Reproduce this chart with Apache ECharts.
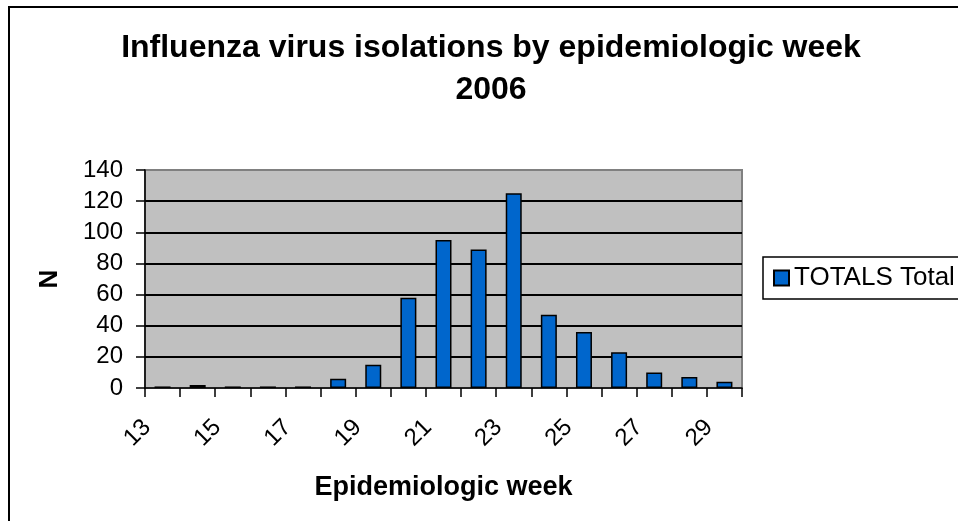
<!DOCTYPE html>
<html>
<head>
<meta charset="utf-8">
<script src="https://cdn.jsdelivr.net/npm/echarts@6/dist/echarts.min.js"></script>
<style>
html,body{margin:0;padding:0;background:#fff;}
#chart{width:958px;height:521px;}
</style>
</head>
<body>
<div id="chart"></div>
<script>
var weeks = ['13','14','15','16','17','18','19','20','21','22','23','24','25','26','27','28','29'];
var totals = [1, 2, 1, 1, 1, 6, 15, 58, 95, 89, 125, 47, 36, 23, 10, 7, 4];
var seriesName = 'TOTALS Total';
var titleLines = ['Influenza virus isolations by epidemiologic week', '2006'];
var yTicks = {min: 0, max: 140, interval: 20};

var FONT = 'Liberation Sans, Arial, sans-serif';
var chart = echarts.init(document.getElementById('chart'), null, {renderer: 'canvas'});
chart.setOption({
  backgroundColor: '#ffffff',
  animation: false,
  title: {
    text: titleLines.join('\n'),
    left: 486,
    top: 22,
    textAlign: 'center',
    textStyle: {fontFamily: FONT, fontWeight: 'bold', fontSize: 32, color: '#000', lineHeight: 42}
  },
  graphic: [{
    type: 'rect',
    shape: {x: 9, y: 7, width: 960, height: 530},
    style: {fill: 'none', stroke: '#000', lineWidth: 2},
    z: 100
  }],
  legend: {
    left: 763,
    top: 257,
    orient: 'vertical',
    padding: [8, 30, 8, 10],
    itemWidth: 15,
    itemHeight: 15,
    borderColor: '#000',
    borderWidth: 1.5,
    backgroundColor: '#fff',
    icon: 'rect',
    textStyle: {fontFamily: FONT, fontSize: 26, color: '#000'},
    data: [seriesName]
  },
  grid: {
    left: 145, right: 216, top: 170, bottom: 133,
    show: true,
    backgroundColor: '#C0C0C0',
    borderColor: '#808080',
    borderWidth: 2
  },
  xAxis: {
    type: 'category',
    data: weeks,
    boundaryGap: true,
    name: 'Epidemiologic week',
    nameLocation: 'middle',
    nameGap: 86,
    nameTextStyle: {fontFamily: FONT, fontWeight: 'bold', fontSize: 27, color: '#000'},
    axisLine: {show: true, lineStyle: {color: '#000', width: 1.5}},
    axisTick: {show: true, interval: 0, length: 9, lineStyle: {color: '#000', width: 1.5}},
    axisLabel: {interval: 1, rotate: 45, margin: 20, padding: [0, 22, 0, 0], fontFamily: FONT, fontSize: 24, color: '#000'},
    splitLine: {show: false}
  },
  yAxis: {
    type: 'value',
    min: yTicks.min, max: yTicks.max, interval: yTicks.interval,
    name: 'N',
    nameLocation: 'middle',
    nameRotate: 90,
    nameGap: 82,
    nameTextStyle: {fontFamily: FONT, fontWeight: 'bold', fontSize: 26, color: '#000'},
    axisLine: {show: true, lineStyle: {color: '#000', width: 1.5}},
    axisTick: {show: true, length: 9, lineStyle: {color: '#000', width: 1.5}},
    axisLabel: {margin: 22, fontFamily: FONT, fontSize: 24, color: '#000'},
    splitLine: {show: true, showMaxLine: false, showMinLine: false, lineStyle: {color: '#000', width: 2}}
  },
  series: [{
    name: seriesName,
    type: 'bar',
    data: totals,
    barWidth: 16,
    itemStyle: {color: '#0066CC', borderColor: '#000', borderWidth: 1.5}
  }]
});
</script>
</body>
</html>
